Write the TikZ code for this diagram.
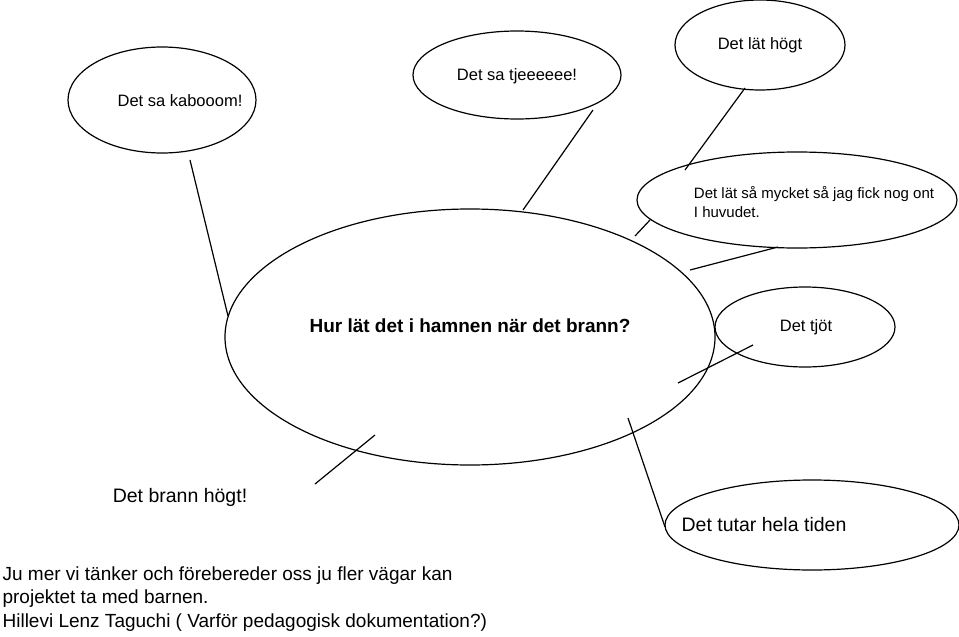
\documentclass[tikz,border=0pt]{standalone}
\usepackage{fontspec}
\setmainfont{Liberation Sans}
\usepackage{tikz}

\begin{document}
\begin{tikzpicture}[x=1pt,y=-1pt,line width=1.2pt,
    txt/.style={font=\fontsize{16.5}{20}\selectfont},
    bigtxt/.style={font=\fontsize{19.5}{23}\selectfont}]
        \useasboundingbox (0,0) rectangle (959,637);
        %% bubbles
        \draw (162,100) ellipse (94 and 53);
        \draw (517,75) ellipse (104 and 44);
        \draw (760,45) ellipse (85 and 45);
        \draw (797,200) ellipse (160 and 48);
        \draw (470,337) ellipse (245 and 128);
        \draw (805,327) ellipse (90 and 40);
        \draw (812,525) ellipse (147 and 45);
        %% bubble texts
        \node[txt] (kaboom) at (180,101) {Det sa kabooom!};
        \node[txt] (tjeee) at (517,76) {Det sa tjeeeeee!};
        \node[txt] (hogt) at (760,45) {Det lät högt};
        \node[txt,align=left,anchor=west,font=\fontsize{15}{19}\selectfont] (mycket) at (690,202) {Det lät så mycket så jag fick nog ont\\I huvudet.};
        \node[font=\fontsize{19}{22}\selectfont\bfseries] (fraga) at (470,326) {Hur lät det i hamnen när det brann?};
        \node[txt] (tjot) at (806,327) {Det tjöt};
        \node[bigtxt] (brann) at (180,497) {Det brann högt!};
        \node[bigtxt] (tutar) at (764,525) {Det tutar hela tiden};
        %% spokes
        \coordinate (a1) at (190,160); \coordinate (a2) at (228,316);
        \coordinate (b1) at (593,110); \coordinate (b2) at (523,210);
        \coordinate (c1) at (745,88);  \coordinate (c2) at (685,170);
        \coordinate (d1) at (650,220); \coordinate (d2) at (635,236);
        \coordinate (e1) at (778,247); \coordinate (e2) at (690,270);
        \coordinate (f1) at (753,345); \coordinate (f2) at (678,383);
        \coordinate (g1) at (628,418); \coordinate (g2) at (665,527);
        \coordinate (h1) at (375,435); \coordinate (h2) at (315,484);
        \draw (a1) -- (a2);
        \draw (b1) -- (b2);
        \draw (c1) -- (c2);
        \draw (d1) -- (d2);
        \draw (e1) -- (e2);
        \draw (f1) -- (f2);
        \draw (g1) -- (g2);
        \draw (h1) -- (h2);
        %% caption
        \node[anchor=north west,align=left,inner sep=0pt,font=\fontsize{19}{23.5}\selectfont] (caption) at (2,566)
            {Ju mer vi tänker och förebereder oss ju fler vägar kan\\projektet ta med barnen.\\ Hillevi Lenz Taguchi ( Varför pedagogisk dokumentation?)};
    \end{tikzpicture}
\end{document}
